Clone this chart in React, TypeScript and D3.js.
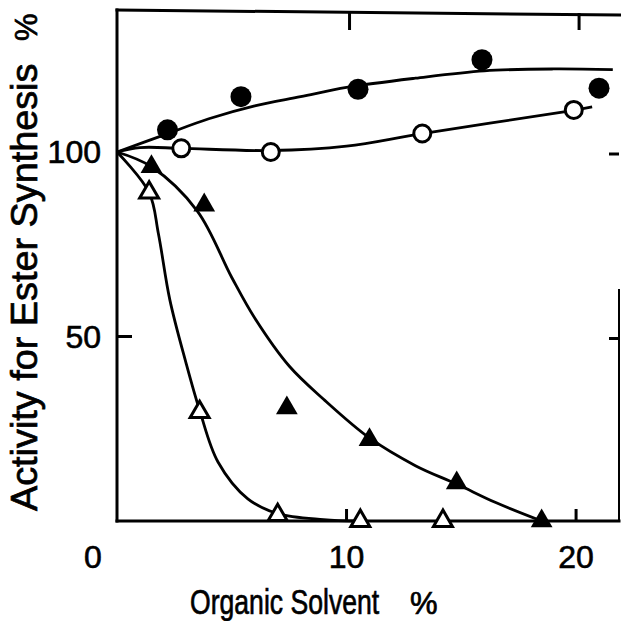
import React from 'react'
import * as d3 from 'd3'

// measured points
const filledCircleX = [2.2, 5.4, 10.5, 15.9, 21.0]
const filledCircleY = [106, 115, 117, 125, 117.3]
const openCircleX = [2.8, 6.7, 13.3, 19.9]
const openCircleY = [101, 100, 105, 111.4]
const filledTriX = [1.5, 3.8, 7.4, 11.0, 14.8, 18.5]
const filledTriY = [96, 85.6, 30.6, 22, 10.3, 0]
const openTriX = [1.4, 3.6, 7.0, 10.6, 14.2]
const openTriY = [89, 29.5, 1.6, 0, 0]

// hand drawn fit curves
const filledCircleCurveX = [0, 2, 4, 6, 8, 10, 13, 16, 19, 21.6]
const filledCircleCurveY = [100, 104.5, 109, 112.5, 115, 117.5, 120, 122, 122.5, 122.3]
const openCircleCurveX = [0, 1, 2.8, 6.7, 10, 13.3, 19.9, 20.7]
const openCircleCurveY = [100, 101.2, 101, 100.4, 101.6, 105, 111.3, 112.2]
const filledTriCurveX = [0, 1.5, 3.5, 5, 6, 7.5, 9, 11, 13, 14.8, 16.5, 18.5]
const filledTriCurveY = [100, 96, 84, 66, 55, 42, 33, 22.5, 15, 10, 5, 0]
const openTriCurveX = [0, 1.4, 1.8, 2.3, 3.0, 3.6, 4.4, 5.7, 7, 9, 10.5]
const openTriCurveY = [100, 89, 78, 60, 43, 30, 16, 6, 2, 0.4, 0]

const xTicks = [10, 20]
const yTicks = [50, 100]

const W = 621
const H = 621
const left = 117
const right = 619
const top = 12
const bottom = 521

const font = '"Liberation Sans", Arial, sans-serif'

export default function App() {
  const x = d3.scaleLinear().domain([0, 21.87]).range([left, right])
  const y = d3.scaleLinear().domain([0, 100]).range([bottom, 152])

  const curve = (xs: number[], ys: number[]) =>
    d3
      .line<number>()
      .x((d) => x(xs[d]))
      .y((d) => y(ys[d]))
      .curve(d3.curveCatmullRom.alpha(0.5))(xs.map((_, i) => i)) || ''

  const tri = d3.symbol().type(d3.symbolTriangle).size(205)()
  const triOpen = d3.symbol().type(d3.symbolTriangle).size(155)()

  const sw = 2.8

  return (
    <svg
      width={W}
      height={H}
      style={{ position: 'absolute', left: 0, top: 0, background: '#fff' }}
    >
      {/* frame */}
      <g stroke="#000" strokeWidth={3} fill="none" strokeLinecap="square">
        <line x1={left} y1={top - 2} x2={left} y2={bottom} />
        <line x1={left} y1={bottom} x2={right} y2={bottom} />
        <line x1={left} y1={top - 2} x2={W} y2={top + 3} />
        <line x1={right} y1={290} x2={right} y2={bottom} strokeWidth={2} />
      </g>
      {/* ticks */}
      <g stroke="#000" strokeWidth={3}>
        {xTicks.map((t) => (
          <g key={'xt' + t}>
            <line x1={x(t)} x2={x(t)} y1={bottom} y2={bottom - 12} />
            <line x1={x(t) + 3} x2={x(t) + 3} y1={top + 1} y2={top + 18} />
          </g>
        ))}
        {yTicks.map((t) => (
          <g key={'yt' + t}>
            {t === 50 && <line x1={left} x2={left + 15} y1={y(t)} y2={y(t)} />}
            <line x1={right} x2={right - 10} y1={y(t) + 2} y2={y(t) + 2} />
          </g>
        ))}
      </g>
      {/* tick labels */}
      <g fontFamily={font} fontSize={32} fill="#000" stroke="#000" strokeWidth={0.6}>
        <text x={93} y={557} textAnchor="middle" dominantBaseline="central">
          0
        </text>
        {xTicks.map((t) => (
          <text
            key={'xl' + t}
            x={x(t)}
            y={557}
            textAnchor="middle"
            dominantBaseline="central"
          >
            {t}
          </text>
        ))}
        {yTicks.map((t) => (
          <text
            key={'yl' + t}
            x={101}
            y={y(t)}
            textAnchor="end"
            dominantBaseline="central"
          >
            {t}
          </text>
        ))}
      </g>
      {/* axis titles */}
      <g fontFamily={font} fill="#000" stroke="#000" strokeWidth={0.7}>
        <g transform="translate(190,614) scale(0.76,1)">
          <text x={0} y={0} fontSize={35}>
            Organic Solvent
          </text>
        </g>
        <text x={410} y={614} fontSize={31}>
          %
        </text>
        <g transform="translate(37,511) rotate(-90)">
          <g transform="scale(1.05,1)">
            <text x={0} y={0} fontSize={36}>
              Activity for Ester Synthesis
            </text>
          </g>
          <text x={470} y={0} fontSize={31}>
            %
          </text>
        </g>
      </g>
      {/* curves */}
      <g stroke="#000" strokeWidth={sw} fill="none">
        <path d={curve(filledCircleCurveX, filledCircleCurveY)} />
        <path d={curve(openCircleCurveX, openCircleCurveY)} />
        <path d={curve(filledTriCurveX, filledTriCurveY)} />
        <path d={curve(openTriCurveX, openTriCurveY)} />
      </g>
      {/* markers */}
      {filledCircleX.map((v, i) => (
        <circle key={'fc' + i} cx={x(v)} cy={y(filledCircleY[i])} r={10.5} fill="#000" />
      ))}
      {openCircleX.map((v, i) => (
        <circle
          key={'oc' + i}
          cx={x(v)}
          cy={y(openCircleY[i])}
          r={8.5}
          fill="#fff"
          stroke="#000"
          strokeWidth={3}
        />
      ))}
      {filledTriX.map((v, i) => (
        <path
          key={'ft' + i}
          d={tri || ''}
          transform={`translate(${x(v)},${y(filledTriY[i])})`}
          fill="#000"
        />
      ))}
      {openTriX.map((v, i) => (
        <path
          key={'ot' + i}
          d={triOpen || ''}
          transform={`translate(${x(v)},${y(openTriY[i])})`}
          fill="#fff"
          stroke="#000"
          strokeWidth={3}
          strokeLinejoin="miter"
        />
      ))}
    </svg>
  )
}
